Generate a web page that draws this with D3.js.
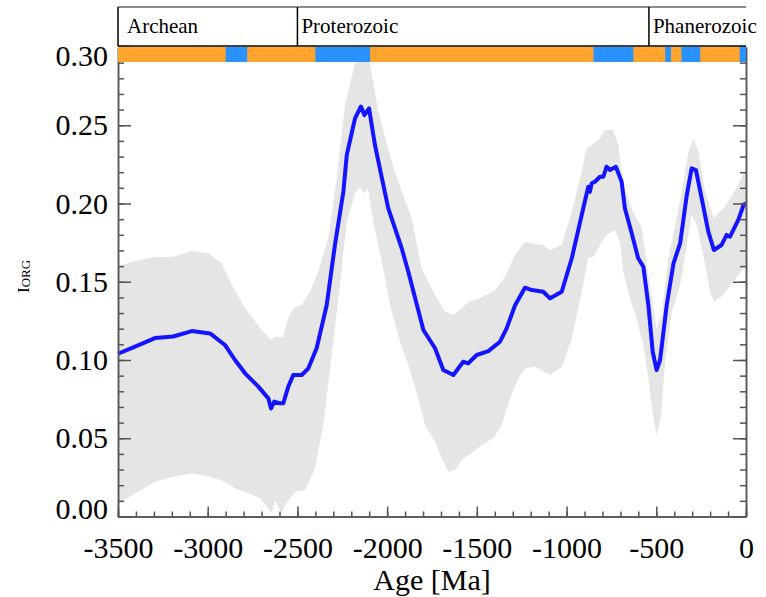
<!DOCTYPE html>
<head>
  <meta charset="utf-8">
  <script src="https://d3js.org/d3.v7.min.js"></script>
  <style>
    body { margin: 0; background: #fff; }
    text { font-family: "Liberation Serif", Tinos, "Times New Roman", Times, "DejaVu Serif", "Noto Serif", serif; fill: #000; }
  </style>
</head>
<body>
  <svg id="chart"></svg>
<script>

  // mean I_org curve
  var lineAge = [-3500, -3405, -3294, -3192, -3089, -2987, -2904, -2848, -2792, -2718, -2662, -2647, -2629, -2597,
    -2579, -2551, -2523, -2476, -2439, -2393, -2337, -2291, -2244, -2225, -2179, -2146, -2127, -2101, -2068,
    -1994, -1919, -1882, -1798, -1733, -1687, -1631, -1576, -1548, -1501, -1436, -1371, -1334, -1287, -1232,
    -1194, -1130, -1092, -1027, -971, -907, -879, -870, -860, -842, -814, -795, -777, -758, -725, -693, -675,
    -637, -601, -572, -544, -520, -498, -479, -442, -404, -367, -330, -303, -279, -247, -210, -179, -136,
    -108, -89, -43, -12, 0];
  var lineVal = [0.104, 0.1085, 0.114, 0.115, 0.1185, 0.117, 0.1096, 0.100, 0.0915, 0.083, 0.0755, 0.069, 0.0734, 0.0723,
    0.0723, 0.083, 0.0904, 0.0904, 0.0947, 0.1075, 0.135, 0.1735, 0.2075, 0.231, 0.2544, 0.262, 0.2565, 0.2608, 0.2374,
    0.197, 0.1714, 0.1564, 0.1192, 0.1075, 0.0936, 0.0904, 0.0989, 0.0979, 0.1032, 0.1057, 0.1117, 0.1202, 0.135, 0.1462,
    0.1447, 0.1436, 0.1394, 0.1436, 0.165, 0.197, 0.2107, 0.2075, 0.2129, 0.2139, 0.2171, 0.2171, 0.2235, 0.2214, 0.2235, 0.2139, 0.197,
    0.181, 0.165, 0.1596, 0.135, 0.1053, 0.0936, 0.100, 0.135, 0.1618, 0.1746, 0.2054, 0.2225, 0.2214, 0.2033, 0.182, 0.1703, 0.1735,
    0.1799, 0.1788, 0.1895, 0.1995, 0.200];

  // uncertainty envelope
  var upAge = [-3500, -3405, -3294, -3192, -3089, -2997, -2922, -2866, -2792, -2699, -2647, -2625, -2579, -2551, -2523,
    -2476, -2430, -2384, -2328, -2281, -2235, -2179, -2142, -2096, -2049, -1975, -1919, -1863, -1808, -1733, -1677,
    -1631, -1585, -1548, -1492, -1399, -1343, -1287, -1232, -1194, -1130, -1092, -1027, -971, -916, -888, -860,
    -814, -786, -740, -712, -684, -628, -582, -563, -526, -498, -470, -433, -396, -358, -321, -293, -265, -228,
    -179, -118, -53, -12, 0];
  var upVal = [0.160, 0.1633, 0.1658, 0.166, 0.1696, 0.1682, 0.1618, 0.1479, 0.133, 0.1192, 0.1128, 0.1149, 0.1149, 0.1266, 0.133,
    0.1351, 0.1436, 0.1564, 0.1778, 0.2161, 0.2629, 0.2896, 0.296, 0.2896, 0.2587, 0.2267, 0.2075, 0.1905, 0.1586, 0.1415, 0.1309,
    0.1288, 0.133, 0.1373, 0.139, 0.1447, 0.1532, 0.1671, 0.1756, 0.1746, 0.1735, 0.1703, 0.1735, 0.1948, 0.2203, 0.2353, 0.2374,
    0.2416, 0.247, 0.247, 0.2374, 0.2118, 0.1937, 0.1852, 0.1692, 0.1394, 0.1202, 0.1288, 0.165, 0.1852, 0.2075, 0.2331, 0.2416, 0.2331, 0.2075,
    0.1905, 0.198, 0.2097, 0.2193, 0.222];
  var loAge = [-3500, -3405, -3294, -3192, -3089, -2987, -2904, -2848, -2774, -2709, -2662, -2644, -2625, -2588, -2569,
    -2541, -2514, -2458, -2402, -2356, -2309, -2263, -2225, -2179, -2151, -2130, -2107, -2077, -2030, -1984, -1928,
    -1882, -1826, -1789, -1733, -1696, -1659, -1622, -1576, -1529, -1473, -1408, -1362, -1315, -1269, -1232, -1176,
    -1092, -1027, -971, -916, -879, -851, -814, -777, -730, -702, -684, -647, -610, -572, -544, -516, -498, -475,
    -451, -414, -367, -330, -303, -275, -238, -201, -179, -127, -71, -12, 0];
  var loVal = [0.008, 0.0148, 0.0222, 0.0254, 0.0276, 0.0254, 0.0222, 0.018, 0.0148, 0.0116, 0.0052, 0.002, 0.0105, 0.002, 0.0073,
    0.0116, 0.0158, 0.0169, 0.0308, 0.0585, 0.1032, 0.1479, 0.1884, 0.2065, 0.2107, 0.2065, 0.2097, 0.1884, 0.1628, 0.1351, 0.1117,
    0.0968, 0.0755, 0.0585, 0.0478, 0.0372, 0.0286, 0.0297, 0.0372, 0.0404, 0.0457, 0.050, 0.0585, 0.0755, 0.0883, 0.0947, 0.0957,
    0.0904, 0.0957, 0.1138, 0.1436, 0.165, 0.166, 0.1735, 0.1799, 0.1831, 0.1756, 0.1564, 0.1394, 0.1266, 0.1096, 0.0883, 0.0627, 0.0521, 0.0627,
    0.0989, 0.1309, 0.1479, 0.1735, 0.1927, 0.1863, 0.1671, 0.1436, 0.1373, 0.1415, 0.150, 0.1588, 0.160];

  // eons and glacial intervals for the top strip
  var eonNames = ["Archean", "Proterozoic", "Phanerozoic"];
  var eonStart = [-3500, -2500, -541];
  var eonEnd = [-2500, -541, 0];
  var iceStart = [-2900, -2400, -850, -450, -360, -35];
  var iceEnd = [-2780, -2095, -628, -418, -255, 0];

  var yTicks = [0.00, 0.05, 0.10, 0.15, 0.20, 0.25, 0.30];
  var xTicks = [-3500, -3000, -2500, -2000, -1500, -1000, -500, 0];

  var serif = '"Liberation Serif", Tinos, "Times New Roman", Times, "DejaVu Serif", "Noto Serif", serif';
  var width = 766, height = 597;
  var svg = d3.select('#chart').attr('width', width).attr('height', height)
    .style('font-family', serif);

  var x = d3.scaleLinear().domain([-3500, 0]).range([118, 746]);
  var y = d3.scaleLinear().domain([0, 0.30]).range([516.5, 47]);

  // grey band
  var bandPts = upAge.map(function (a, i) { return [x(a), y(upVal[i])]; })
    .concat(loAge.map(function (a, i) { return [x(a), y(loVal[i])]; }).reverse());
  svg.append('path')
    .attr('d', d3.line()(bandPts) + 'Z')
    .attr('fill', '#e5e5e5');

  // mean line
  var line = d3.line()
    .x(function (d, i) { return x(lineAge[i]); })
    .y(function (d) { return y(d); });
  svg.append('path')
    .datum(lineVal)
    .attr('d', line)
    .attr('fill', 'none')
    .attr('stroke', '#1414ff')
    .attr('stroke-width', 4)
    .attr('stroke-linejoin', 'round');

  // axes, ticks pointing inward
  var axisColor = '#555';
  function styleAxis(g) {
    g.attr('font-family', null);
    g.select('.domain').attr('stroke', axisColor).attr('stroke-width', 1.5);
    g.selectAll('line').attr('stroke', axisColor).attr('stroke-width', 1.5);
    g.selectAll('text').style('font-family', serif).style('font-size', '30px').attr('fill', '#000');
  }

  var minorY = d3.range(0, 31).map(function (i) { return i / 100; });
  var minorX = d3.range(-3500, 1, 100);

  svg.append('g').attr('transform', 'translate(118,0)')
    .call(d3.axisLeft(y).tickValues(minorY).tickSize(-6).tickFormat('').tickSizeOuter(0)).call(styleAxis);
  var yAxis = svg.append('g').attr('transform', 'translate(118,0)')
    .call(d3.axisLeft(y).tickValues(yTicks).tickSize(-13).tickPadding(10).tickSizeOuter(0)
      .tickFormat(d3.format('.2f'))).call(styleAxis);
  yAxis.selectAll('text').attr('dy', function (d) {
    if (d === 0.30) return '0.6em';
    if (d === 0) return '0.05em';
    return '0.32em';
  });

  svg.append('g').attr('transform', 'translate(746,0)')
    .call(d3.axisRight(y).tickValues(minorY).tickSize(-6).tickFormat('').tickSizeOuter(0)).call(styleAxis);
  svg.append('g').attr('transform', 'translate(746,0)')
    .call(d3.axisRight(y).tickValues(yTicks).tickSize(-13).tickFormat('').tickSizeOuter(0)).call(styleAxis);

  svg.append('g').attr('transform', 'translate(0,516.5)')
    .call(d3.axisBottom(x).tickValues(minorX).tickSize(-5).tickFormat('').tickSizeOuter(0)).call(styleAxis);
  svg.append('g').attr('transform', 'translate(0,516.5)')
    .call(d3.axisBottom(x).tickValues(xTicks).tickSize(-10).tickPadding(20).tickSizeOuter(0)
      .tickFormat(function (d) { return String(d); })).call(styleAxis);

  // eon strip
  var stripTop = 47, stripH = 15;
  svg.append('rect')
    .attr('x', x(-3500)).attr('y', stripTop)
    .attr('width', x(0) - x(-3500)).attr('height', stripH)
    .attr('fill', '#ffa42c');
  svg.selectAll('.ice')
    .data(iceStart)
    .enter().append('rect')
    .attr('class', 'ice')
    .attr('x', function (d) { return x(d); })
    .attr('y', stripTop)
    .attr('width', function (d, i) { return x(iceEnd[i]) - x(d); })
    .attr('height', stripH)
    .attr('fill', '#2a92fd');

  // eon boxes
  svg.append('line').attr('x1', x(-3500)).attr('x2', x(0)).attr('y1', 7).attr('y2', 7)
    .attr('stroke', '#666').attr('stroke-width', 1.5);
  svg.append('line').attr('x1', x(-3500)).attr('x2', x(0)).attr('y1', 46).attr('y2', 46)
    .attr('stroke', '#000').attr('stroke-width', 1.5);
  svg.selectAll('.eonline')
    .data(eonStart)
    .enter().append('line')
    .attr('x1', function (d) { return x(d); }).attr('x2', function (d) { return x(d); })
    .attr('y1', 7).attr('y2', 46)
    .attr('stroke', '#000').attr('stroke-width', 1.5);
  svg.selectAll('.eon')
    .data(eonNames)
    .enter().append('text')
    .attr('x', function (d, i) { return x(eonStart[i]) + (i === 0 ? 9 : 4); })
    .attr('y', 33)
    .style('font-size', '21px')
    .text(function (d) { return d; });

  // axis titles
  svg.append('text')
    .attr('x', 432).attr('y', 590)
    .attr('text-anchor', 'middle')
    .style('font-size', '30px')
    .text('Age [Ma]');

  var ylab = svg.append('text')
    .attr('transform', 'translate(29,293)rotate(-90)')
    .style('font-size', '17px');
  ylab.append('tspan').text('I');
  ylab.append('tspan').style('font-size', '13px').attr('dy', '1').text('ORG');

</script>
</body>
